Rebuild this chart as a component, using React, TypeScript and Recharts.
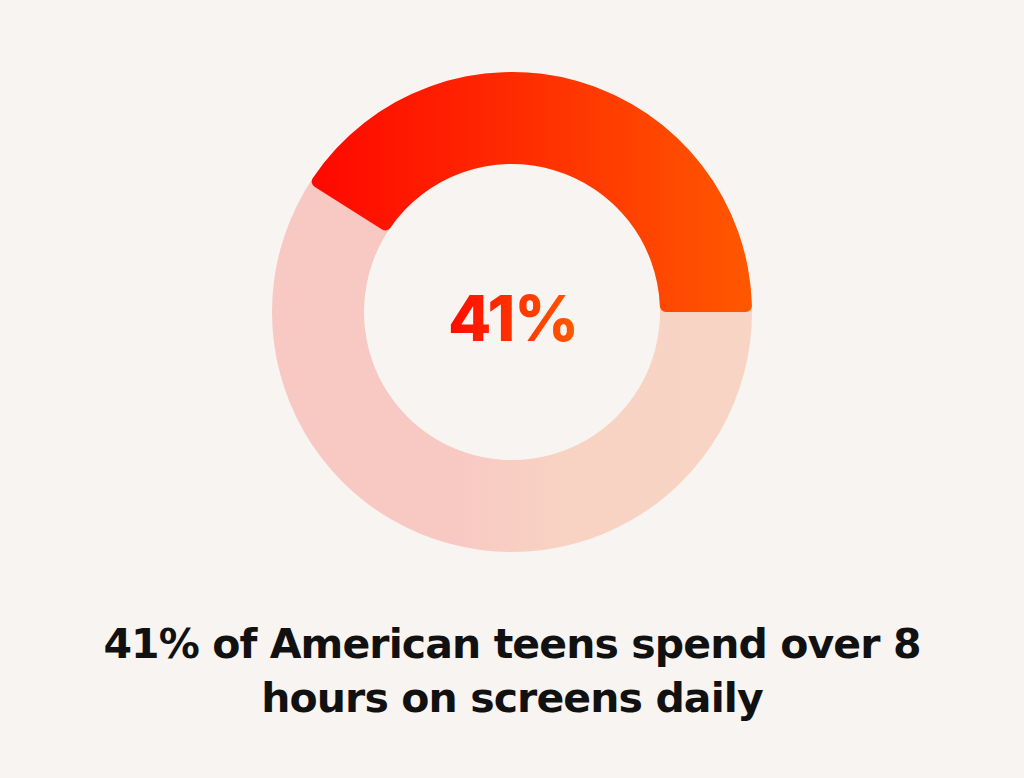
import { PieChart, Pie, Cell, Label } from "recharts";

// share of teens spending over 8 hours a day on screens
const segmentNames = ["Over 8 hours", "Other"];
const segmentShares = [41, 59];
const ringTotal = [100];
const centerLabel = "41%";
const titleLines = ["41% of American teens spend over 8", "hours on screens daily"];

const BG = "#f8f4f1";

export default function App() {
    const shareData = segmentNames.map((name, i) => ({ name, value: segmentShares[i] }));
    const ringData = ringTotal.map((value) => ({ name: "All", value }));

    return (
        <div
            style={{
                position: "fixed",
                left: 0,
                top: 0,
                width: 1024,
                height: 778,
                background: BG,
                overflow: "hidden",
            }}
        >
            <PieChart width={1024} height={600} margin={{ top: 0, right: 0, bottom: 0, left: 0 }}>
                <defs>
                    <linearGradient id="redGrad" x1="0" y1="0" x2="1" y2="0">
                        <stop offset="0%" stopColor="#ff0800" />
                        <stop offset="45%" stopColor="#ff2a00" />
                        <stop offset="100%" stopColor="#ff5800" />
                    </linearGradient>
                    <linearGradient id="pinkGrad" x1="0" y1="0" x2="1" y2="0">
                        <stop offset="0%" stopColor="#f8c8c3" />
                        <stop offset="38%" stopColor="#f8c9c3" />
                        <stop offset="62%" stopColor="#f8d3c3" />
                        <stop offset="100%" stopColor="#f8d4c4" />
                    </linearGradient>
                    <linearGradient id="textGrad" x1="0" y1="0" x2="1" y2="0">
                        <stop offset="0%" stopColor="#ff0a00" />
                        <stop offset="100%" stopColor="#ff5a00" />
                    </linearGradient>
                </defs>
                {/* light background ring */}
                <Pie
                    data={ringData}
                    dataKey="value"
                    cx={512}
                    cy={312}
                    innerRadius={148}
                    outerRadius={240}
                    startAngle={0}
                    endAngle={360}
                    stroke="none"
                    isAnimationActive={false}
                >
                    <Cell fill="url(#pinkGrad)" />
                </Pie>
                {/* highlighted share */}
                <Pie
                    data={shareData}
                    dataKey="value"
                    cx={512}
                    cy={312}
                    innerRadius={148}
                    outerRadius={240}
                    startAngle={0}
                    endAngle={360}
                    cornerRadius={6}
                    stroke="none"
                    isAnimationActive={false}
                >
                    <Cell fill="url(#redGrad)" />
                    <Cell fill="transparent" />
                    <Label
                        position="center"
                        content={() => (
                            <text
                                x={513}
                                y={341}
                                textAnchor="middle"
                                fill="url(#textGrad)"
                                style={{ fontFamily: "Inter", fontWeight: 800, fontSize: 63, letterSpacing: -1 }}
                            >
                                {centerLabel}
                            </text>
                        )}
                    />
                </Pie>
            </PieChart>
            <div
                style={{
                    position: "absolute",
                    left: 0,
                    top: 617,
                    width: 1024,
                    textAlign: "center",
                    fontFamily: "DejaVu Sans",
                    fontWeight: 700,
                    fontSize: 41,
                    letterSpacing: -0.9,
                    lineHeight: "54px",
                    color: "#111111",
                }}
            >
                {titleLines.map((line) => (
                    <div key={line}>{line}</div>
                ))}
            </div>
        </div>
    );
}
